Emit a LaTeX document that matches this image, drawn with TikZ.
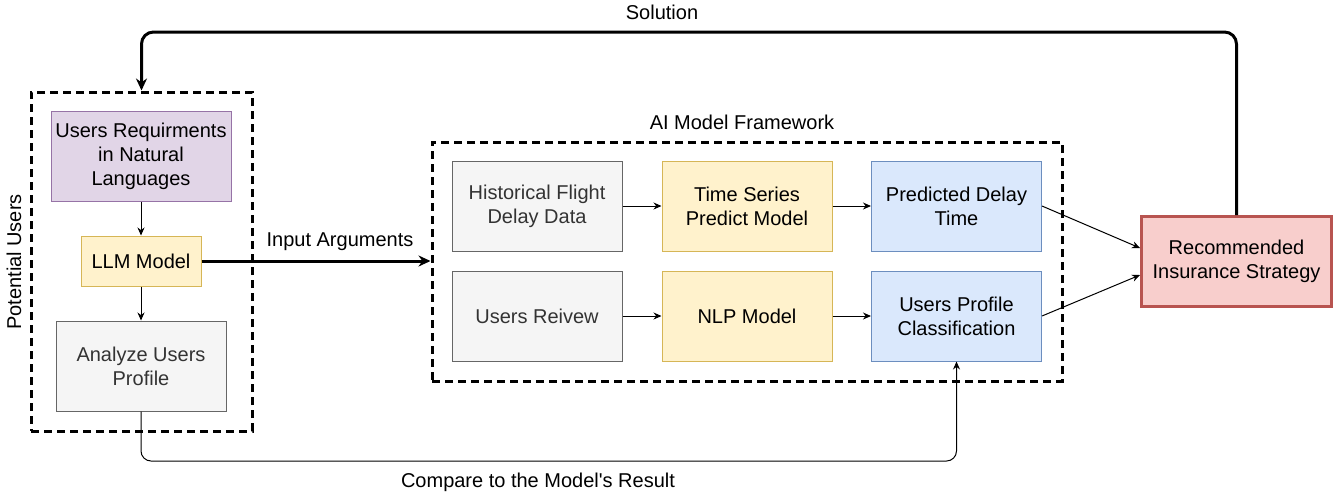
\documentclass[tikz,border=0pt]{standalone}
\usepackage{fontspec}
\setmainfont{Liberation Sans}
\usetikzlibrary{arrows.meta,positioning}
\definecolor{purfill}{HTML}{E1D5E7}
\definecolor{purline}{HTML}{9673A6}
\definecolor{yelfill}{HTML}{FFF2CC}
\definecolor{yelline}{HTML}{D6B656}
\definecolor{grayfill}{HTML}{F5F5F5}
\definecolor{grayline}{HTML}{666666}
\definecolor{graytext}{HTML}{333333}
\definecolor{bluefill}{HTML}{DAE8FC}
\definecolor{blueline}{HTML}{6C8EBF}
\definecolor{redfill}{HTML}{F8CECC}
\definecolor{redline}{HTML}{B85450}

\begin{document}
\begin{tikzpicture}[
  x=0.5pt,y=-0.5pt,
  font=\fontsize{10}{12}\selectfont,
  box/.style={draw,line width=0.5pt,minimum width=85pt,minimum height=45pt,align=center,inner sep=1pt},
  reqbox/.style={box,fill=purfill,draw=purline,minimum width=90pt},
  llmbox/.style={box,fill=yelfill,draw=yelline,minimum width=60pt,minimum height=25pt},
  databox/.style={box,fill=grayfill,draw=grayline,text=graytext},
  modelbox/.style={box,fill=yelfill,draw=yelline},
  outbox/.style={box,fill=bluefill,draw=blueline},
  resbox/.style={box,fill=redfill,draw=redline,line width=1.5pt,minimum width=95pt,minimum height=45pt},
  grp/.style={draw,line width=1.5pt,dash pattern=on 4pt off 2.5pt,inner sep=0pt},
  arrow/.style={-{Stealth[length=4pt,width=3.5pt]},line width=0.5pt},
  bigarrow/.style={-{Stealth[length=6pt,width=5.5pt]},line width=1.5pt}
]
  \useasboundingbox (0,0) rectangle (1334,494);
  % potential users
  \node[grp,minimum width=110.5pt,minimum height=169.5pt] (users) at (141.5,261.5) {};
  \node[rotate=90] (potlbl) at (14,262) {Potential Users};
  \node[reqbox] (req) at (141,156) {Users Requirments\\in Natural\\Languages};
  \node[llmbox] (llm) at (141,261) {LLM Model};
  \node[databox] (anlz) at (141,366) {Analyze Users\\Profile};
  % AI framework
  \node[grp,minimum width=315pt,minimum height=119.5pt] (ai) at (747,261.5) {};
  \node (ailbl) at (742,122) {AI Model Framework};
  \node[databox] (hist) at (537,206) {Historical Flight\\Delay Data};
  \node[modelbox] (tsm) at (747,206) {Time Series\\Predict Model};
  \node[outbox] (pred) at (956.5,206) {Predicted Delay\\Time};
  \node[databox] (rev) at (537,316) {Users Reivew};
  \node[modelbox] (nlp) at (747,316) {NLP Model};
  \node[outbox] (cls) at (956.5,316) {Users Profile\\Classification};
  \node[resbox] (rec) at (1236.5,261.5) {Recommended\\Insurance Strategy};
  % connectors
  \draw[arrow] (req) -- (llm);
  \draw[arrow] (llm) -- (anlz);
  \draw[bigarrow] (llm) -- (ai.west |- llm);
  \node (inlbl) at (340,242) {Input Arguments};
  \draw[arrow] (hist) -- (tsm);
  \draw[arrow] (tsm) -- (pred);
  \draw[arrow] (rev) -- (nlp);
  \draw[arrow] (nlp) -- (cls);
  \draw[arrow] (pred.east) -- ([yshift=6.75pt]rec.west);
  \draw[arrow] (cls.east) -- ([yshift=-6.75pt]rec.west);
  \draw[bigarrow,rounded corners=6pt] (rec.north) |- (662,32) -| (users.north);
  \node (sol) at (662,12) {Solution};
  \draw[arrow,rounded corners=5pt] (anlz.south) |- (538,461) -| (cls.south);
  \node (cmp) at (538,482) {Compare to the Model\textquotesingle s Result};
\end{tikzpicture}
\end{document}
